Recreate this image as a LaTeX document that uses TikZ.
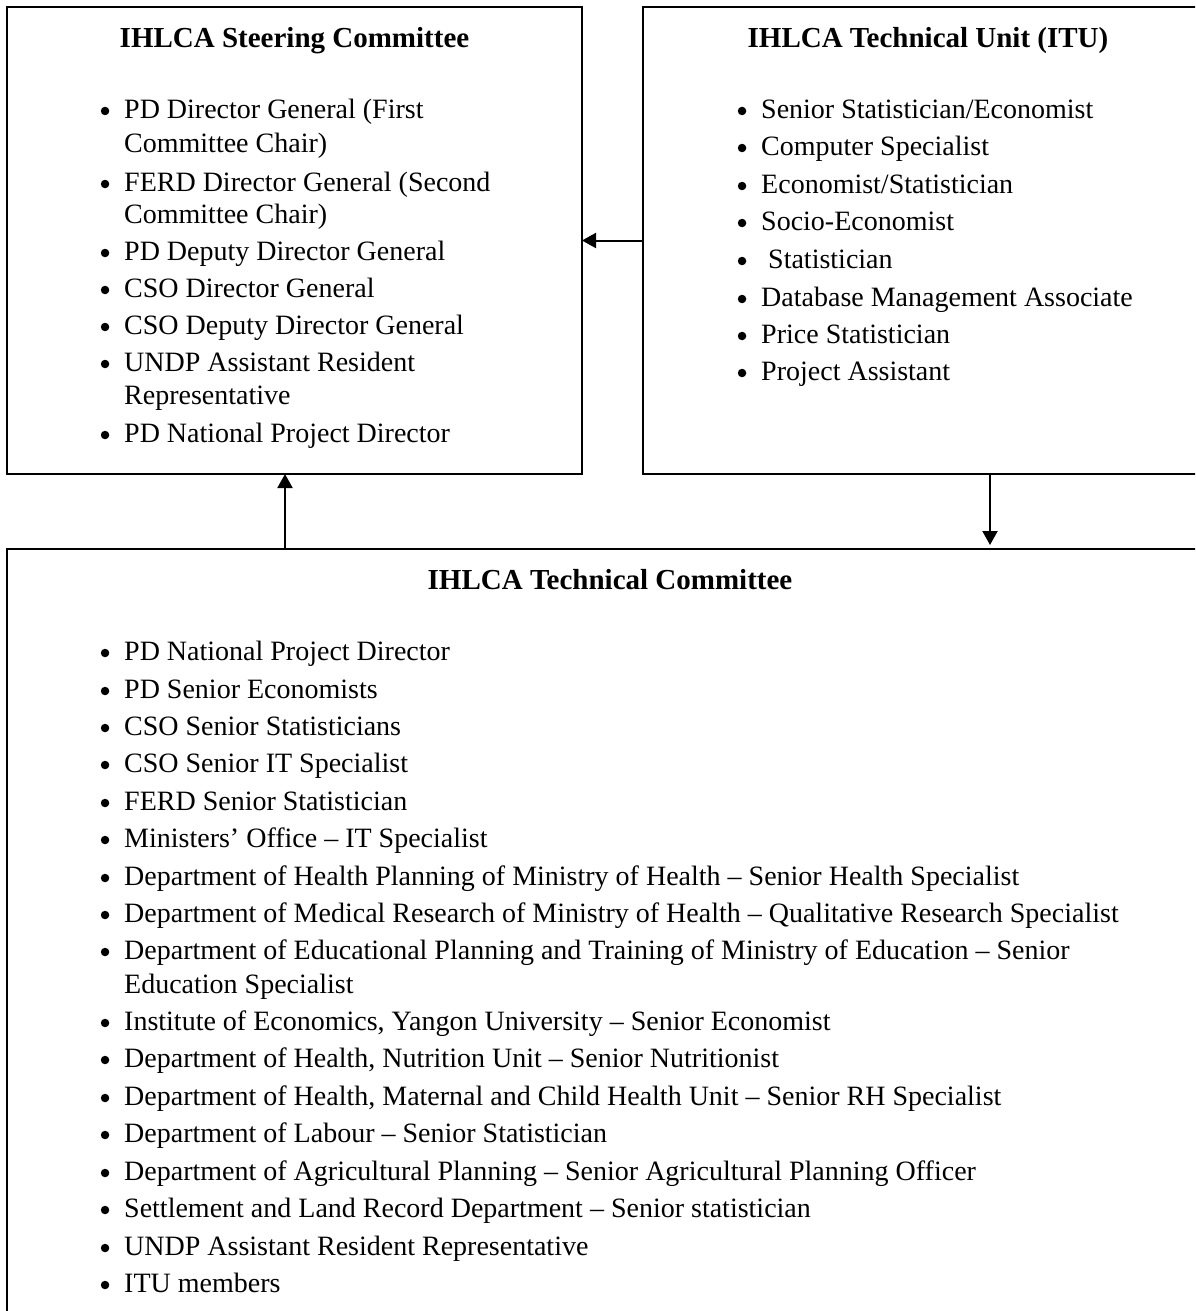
\documentclass[tikz,border=0pt]{standalone}
\usepackage{fontspec}
\setmainfont{Liberation Serif}
\usetikzlibrary{arrows.meta}
\usetikzlibrary{positioning}

\tikzset{
    box/.style = {draw, rectangle, line width = 2pt, inner sep = 0pt, outer sep = 0pt},
    heading/.style = {font = \fontsize{29}{34}\selectfont\bfseries},
    entry/.style = {anchor = west, inner sep = 0pt, text height = 20pt, text depth = 6pt,
                    font = \fontsize{28}{33}\selectfont},
    dot/.style = {circle, fill, inner sep = 0pt, minimum size = 8.5pt},
    item/.style = {entry, label = {[dot, label distance = 14.5pt]west:{}}},
    link/.style = {line width = 2pt, -{Triangle[length = 14pt, width = 15pt]}},
}

\begin{document}
\begin{tikzpicture}[x = 1pt, y = -1pt, black]

    \useasboundingbox (0,0) rectangle (1195,1311);
    \clip (0,0) rectangle (1195,1311);

    % the three boxes
    \node (steer) [box, minimum width = 575pt, minimum height = 467pt] at (294.5,240.5) {};
    \node (itu) [box, minimum width = 570pt, minimum height = 467pt, right = 61pt of steer] {};
    \node (tech) [box, minimum width = 1206pt, minimum height = 780pt,
                  below = 75pt of steer.south west, anchor = north west] {};

    % steering committee
    \node (steerhead) [heading, yshift = -34pt] at (steer.north) {IHLCA Steering Committee};
    \begin{scope}[yshift = -3pt]
    \node (s1)  [item]  at (124,108) {PD Director General (First};
    \node (s1b) [entry] at (124,143) {Committee Chair)};
    \node (s2)  [item]  at (124,181) {FERD Director General (Second};
    \node (s2b) [entry] at (124,213) {Committee Chair)};
    \node (s3)  [item]  at (124,250) {PD Deputy Director General};
    \node (s4)  [item]  at (124,287) {CSO Director General};
    \node (s5)  [item]  at (124,324) {CSO Deputy Director General};
    \node (s6)  [item]  at (124,361) {UNDP Assistant Resident};
    \node (s6b) [entry] at (124,394) {Representative};
    \node (s7)  [item]  at (124,432) {PD National Project Director};
    \end{scope}

    % technical unit
    \node (ituhead) [heading, yshift = -34pt] at (itu.north) {IHLCA Technical Unit (ITU)};
    \begin{scope}[yshift = -3pt]
    \node (u1) [item] at (761,108) {Senior Statistician/Economist};
    \node (u2) [item] at (761,145) {Computer Specialist};
    \node (u3) [item] at (761,183) {Economist/Statistician};
    \node (u4) [item] at (761,220) {Socio-Economist};
    \node (u5) [item] at (761,258) {\ Statistician};
    \node (u6) [item] at (761,296) {Database Management Associate};
    \node (u7) [item] at (761,333) {Price Statistician};
    \node (u8) [item] at (761,370) {Project Assistant};
    \end{scope}

    % technical committee
    \node (techhead) [heading, yshift = -31pt] at (tech.north -| 610,0) {IHLCA Technical Committee};
    \begin{scope}[yshift = -3pt]
    \node (t1)   [item]  at (124,650)  {PD National Project Director};
    \node (t2)   [item]  at (124,688)  {PD Senior Economists};
    \node (t3)   [item]  at (124,725)  {CSO Senior Statisticians};
    \node (t4)   [item]  at (124,762)  {CSO Senior IT Specialist};
    \node (t5)   [item]  at (124,800)  {FERD Senior Statistician};
    \node (t6)   [item]  at (124,837)  {Ministers’ Office – IT Specialist};
    \node (t7)   [item]  at (124,875)  {Department of Health Planning of Ministry of Health – Senior Health Specialist};
    \node (t8)   [item]  at (124,912)  {Department of Medical Research of Ministry of Health – Qualitative Research Specialist};
    \node (t9)   [item]  at (124,949)  {Department of Educational Planning and Training of Ministry of Education – Senior};
    \node (t9b)  [entry] at (124,983)  {Education Specialist};
    \node (t10)  [item]  at (124,1020) {Institute of Economics, Yangon University – Senior Economist};
    \node (t11)  [item]  at (124,1057) {Department of Health, Nutrition Unit – Senior Nutritionist};
    \node (t12)  [item]  at (124,1095) {Department of Health, Maternal and Child Health Unit – Senior RH Specialist};
    \node (t13)  [item]  at (124,1132) {Department of Labour – Senior Statistician};
    \node (t14)  [item]  at (124,1170) {Department of Agricultural Planning – Senior Agricultural Planning Officer};
    \node (t15)  [item]  at (124,1207) {Settlement and Land Record Department – Senior statistician};
    \node (t16)  [item]  at (124,1245) {UNDP Assistant Resident Representative};
    \node (t17)  [item]  at (124,1282) {ITU members};
    \end{scope}

    % connectors
    \coordinate (upfoot) at (285,549);
    \coordinate (downtop) at (990,474);

    \draw[link] (itu) -- (steer);
    \draw[link] (upfoot) -- (upfoot |- steer.south);
    \draw[link, shorten > = 4pt] (downtop) -- (downtop |- tech.north);

\end{tikzpicture}
\end{document}
